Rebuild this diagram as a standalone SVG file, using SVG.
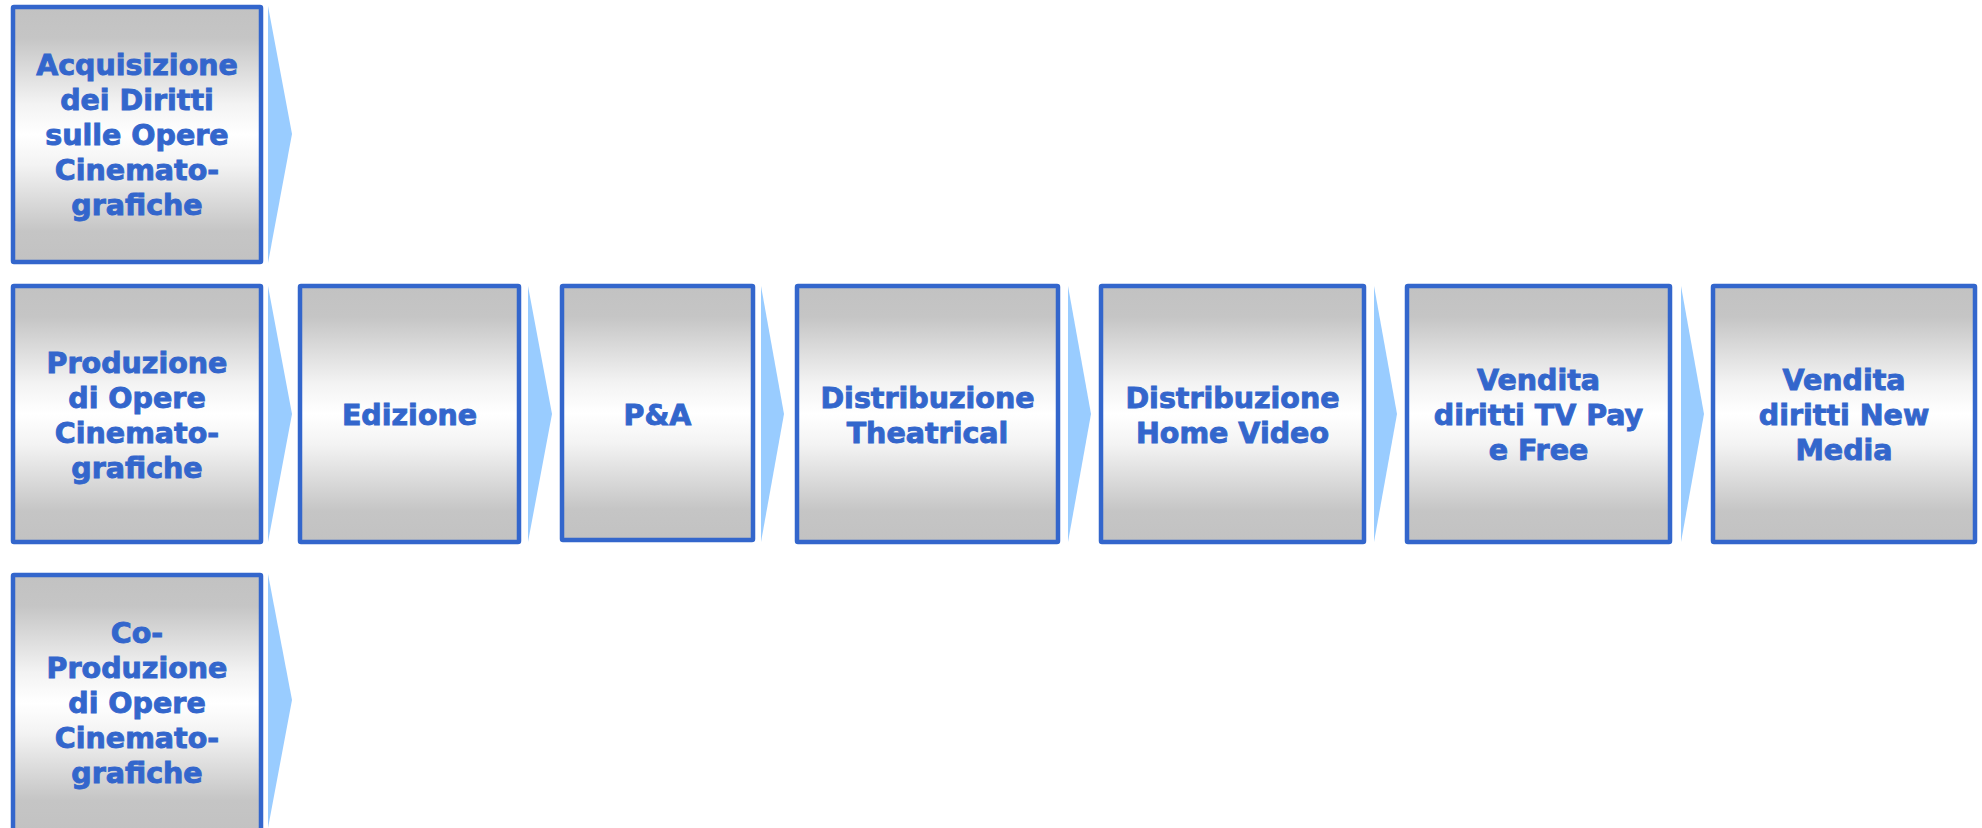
<svg xmlns="http://www.w3.org/2000/svg" width="1982" height="828" viewBox="0 0 1982 828">
<defs>
<linearGradient id="g" x1="0" y1="0" x2="0" y2="1">
<stop offset="0" stop-color="#c2c2c2"/>
<stop offset="0.12" stop-color="#c5c5c5"/>
<stop offset="0.38" stop-color="#f3f3f3"/>
<stop offset="0.5" stop-color="#ffffff"/>
<stop offset="0.62" stop-color="#f3f3f3"/>
<stop offset="0.88" stop-color="#c5c5c5"/>
<stop offset="1" stop-color="#c2c2c2"/>
</linearGradient>
</defs>
<style>
.box{fill:url(#g);stroke:#3366cc;stroke-width:4.5;}
.arr{fill:#99ccff;stroke:none;}
text{font-family:"DejaVu Sans","Verdana",sans-serif;font-weight:bold;font-size:28.5px;fill:#3366cc;stroke:#3366cc;stroke-width:0.9;text-anchor:middle;}
</style>
<rect width="1982" height="828" fill="#ffffff"/>
<g id="connectors">
<polygon class="arr" points="268,6 292,134 268,263"/>
<polygon class="arr" points="268,286 292,414 268,542"/>
<polygon class="arr" points="268,574 292,700 268,828"/>
<polygon class="arr" points="528,286 552,414 528,542"/>
<polygon class="arr" points="761,286 784,414 761,542"/>
<polygon class="arr" points="1068,286 1091,414 1068,542"/>
<polygon class="arr" points="1374,286 1397,414 1374,542"/>
<polygon class="arr" points="1681,286 1704,414 1681,542"/>
</g>
<g id="n-acquisizione">
<rect class="box" x="13" y="7" width="248" height="255" rx="1"/>
<text x="137" y="75">Acquisizione</text>
<text x="137" y="110">dei Diritti</text>
<text x="137" y="145">sulle Opere</text>
<text x="137" y="180">Cinemato-</text>
<text x="137" y="215">grafiche</text>
</g>
<g id="n-produzione">
<rect class="box" x="13" y="286" width="248" height="256" rx="1"/>
<text x="137" y="373">Produzione</text>
<text x="137" y="408">di Opere</text>
<text x="137" y="443">Cinemato-</text>
<text x="137" y="478">grafiche</text>
</g>
<g id="n-coproduzione">
<rect class="box" x="13" y="575" width="248" height="256" rx="1"/>
<text x="137" y="643">Co-</text>
<text x="137" y="678">Produzione</text>
<text x="137" y="713">di Opere</text>
<text x="137" y="748">Cinemato-</text>
<text x="137" y="783">grafiche</text>
</g>
<g id="n-edizione">
<rect class="box" x="300" y="286" width="219" height="256" rx="1"/>
<text x="409.5" y="425">Edizione</text>
</g>
<g id="n-pa">
<rect class="box" x="562" y="286" width="191" height="254" rx="1"/>
<text x="657.5" y="425">P&amp;A</text>
</g>
<g id="n-theatrical">
<rect class="box" x="797" y="286" width="261" height="256" rx="1"/>
<text x="927.5" y="408">Distribuzione</text>
<text x="927.5" y="443">Theatrical</text>
</g>
<g id="n-homevideo">
<rect class="box" x="1101" y="286" width="263" height="256" rx="1"/>
<text x="1232.5" y="408">Distribuzione</text>
<text x="1232.5" y="443">Home Video</text>
</g>
<g id="n-tv">
<rect class="box" x="1407" y="286" width="263" height="256" rx="1"/>
<text x="1538.5" y="390">Vendita</text>
<text x="1538.5" y="425">diritti TV Pay</text>
<text x="1538.5" y="460">e Free</text>
</g>
<g id="n-newmedia">
<rect class="box" x="1713" y="286" width="262" height="256" rx="1"/>
<text x="1844" y="390">Vendita</text>
<text x="1844" y="425">diritti New</text>
<text x="1844" y="460">Media</text>
</g>
</svg>
